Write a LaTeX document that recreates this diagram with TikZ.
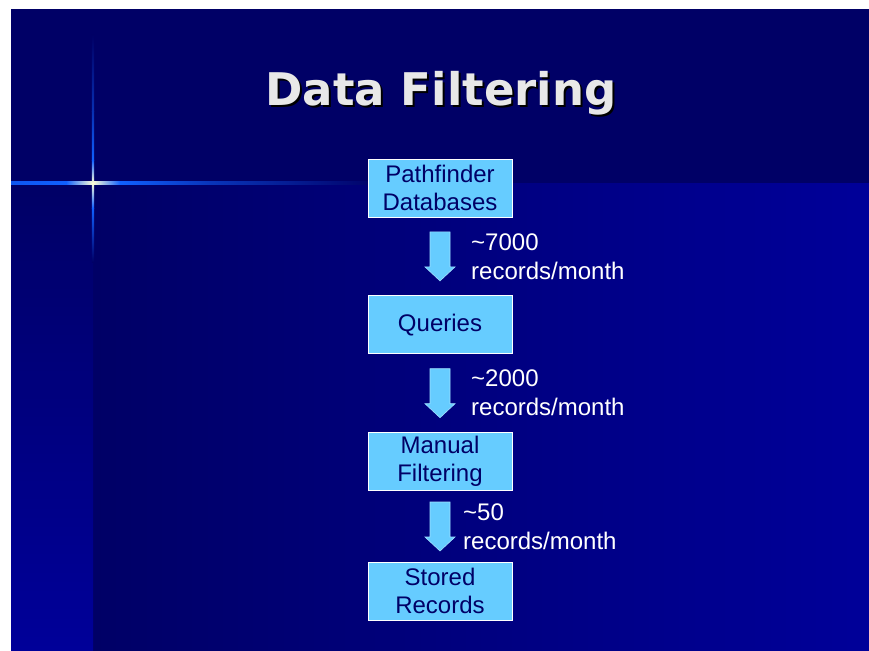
\documentclass[tikz,border=0pt]{standalone}
\usepackage{fontspec}
\setmainfont{Liberation Sans}
\newfontfamily\titlefont{DejaVu Sans}
\usetikzlibrary{calc,positioning}
\definecolor{slidenavy}{HTML}{000066}
\definecolor{slideblue}{HTML}{000099}
\definecolor{boxcyan}{HTML}{66CCFF}
\definecolor{arrowrim}{HTML}{A0E0FF}
\definecolor{boxtext}{HTML}{000066}
\definecolor{titlegray}{HTML}{E8E8E8}
\definecolor{flarecore}{HTML}{FFFFD8}
\definecolor{flareblue}{HTML}{1060FF}

\begin{document}
\begin{tikzpicture}[x=1pt,y=-1pt,
  stagebox/.style={draw=white,line width=0.8pt,fill=boxcyan,text=boxtext,
    minimum width=144pt,minimum height=58pt,inner sep=0pt,align=center,
    font=\fontsize{24}{28}\selectfont},
  countlabel/.style={anchor=west,text=white,align=left,inner sep=0pt,
    font=\fontsize{24}{29}\selectfont},
  flowarrow/.style={fill=boxcyan,draw=arrowrim,line width=0.6pt,line join=miter},
  titletext/.style={anchor=base,font=\titlefont\bfseries\fontsize{45}{54}\selectfont}]
\useasboundingbox (0,0) rectangle (869,650);
% page and slide background
\fill[white] (0,0) rectangle (869,650);
\fill[slidenavy] (11,9) rectangle (869,183);
\shade[left color=slidenavy,right color=slideblue] (93,183) rectangle (869,650);
\shade[top color=slidenavy,bottom color=slideblue] (11,183) rectangle (93,650);
% star flare
\foreach \xa/\xb/\ca/\cb in {11/66/flareblue!90!slidenavy/flareblue,
    66/93/flareblue/flarecore, 93/120/flarecore/flareblue,
    120/210/flareblue/flareblue!55!slidenavy, 210/380/flareblue!55!slidenavy/slidenavy}{
  \shade[left color=\ca,right color=\cb] (\xa,181.6) rectangle (\xb,184.4);
}
\foreach \ya/\yb/\ca/\cb in {35/112/slidenavy/flareblue!50!slidenavy,
    112/160/flareblue!50!slidenavy/flareblue, 160/183/flareblue/flarecore,
    183/208/flarecore/flareblue, 208/262/flareblue/slidenavy}{
  \shade[top color=\ca,bottom color=\cb] (91.8,\ya) rectangle (94.2,\yb);
}
% title with drop shadow
\node[titletext,text=black] (titleshadow) at (443,108) {Data Filtering};
\node[titletext,text=titlegray] (title) at (441,106) {Data Filtering};
% filtering stages
\node[stagebox] (db) at (440,188) {Pathfinder\\Databases};
\node[stagebox,below=78pt of db] (qry) {Queries};
\node[stagebox,below=78pt of qry] (man) {Manual\\Filtering};
\node[stagebox,below=71pt of man] (sto) {Stored\\Records};
% block arrows and record counts
\foreach \a/\b/\cnt/\dx in {db/qry/7000/31, qry/man/2000/31, man/sto/50/23}{
  \coordinate (mid) at ($(\a.south)!0.5!(\b.north)$);
  \draw[flowarrow] ($(mid)+(-10,-24.5)$) -- ($(mid)+(10,-24.5)$)
    -- ($(mid)+(10,10.5)$) -- ($(mid)+(15,10.5)$) -- ($(mid)+(0,24.5)$)
    -- ($(mid)+(-15,10.5)$) -- ($(mid)+(-10,10.5)$) -- cycle;
  \node[countlabel] (lab\a) at ($(mid)+(\dx,0)$) {\textasciitilde\cnt\\records/month};
}
\end{tikzpicture}
\end{document}
